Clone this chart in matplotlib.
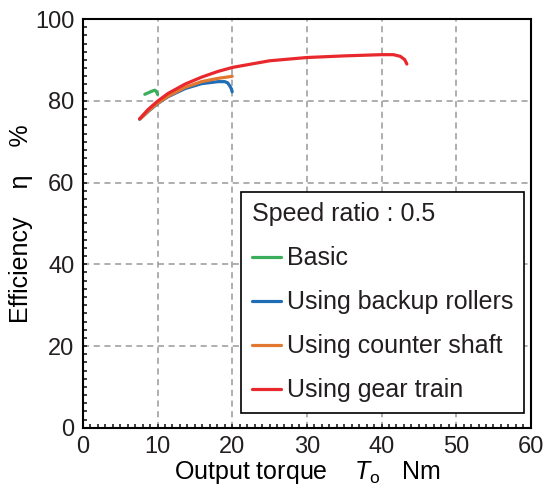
import matplotlib
matplotlib.use("Agg")
import matplotlib.pyplot as plt
from matplotlib.ticker import MultipleLocator

plt.rcParams["font.family"] = ["Liberation Sans", "DejaVu Sans"]
plt.rcParams["mathtext.fontset"] = "custom"
plt.rcParams["mathtext.rm"] = "Liberation Sans"
plt.rcParams["mathtext.it"] = "Liberation Sans:italic"
plt.rcParams["text.color"] = "#231f20"
plt.rcParams["xtick.color"] = "#231f20"
plt.rcParams["ytick.color"] = "#231f20"

# ── data ───────────────────────────────────────────────────────────────────
basic_x = [8.3, 8.8, 9.3, 9.65, 9.85, 10.0]
basic_y = [81.6, 82.0, 82.4, 82.6, 82.3, 81.6]

backup_x = [7.6, 8.75, 10, 11.4, 13.7, 15.9, 18.1, 19.0, 19.4, 19.7, 19.9, 20.0]
backup_y = [75.5, 77.4, 79.3, 81.0, 83.0, 84.2, 84.7, 84.7, 84.4, 83.6, 82.9, 82.2]

counter_x = [7.7, 8.75, 10, 11.4, 13.7, 15.9, 18.1, 20.0]
counter_y = [75.6, 77.5, 79.4, 81.1, 83.3, 84.7, 85.5, 86.0]

gear_x = [7.6, 8.75, 10, 11.4, 13.7, 15.9, 18.1, 20.1, 25, 30, 35, 40, 41.6, 42.5, 43.1, 43.4]
gear_y = [75.6, 77.9, 79.9, 81.8, 84.1, 85.8, 87.2, 88.2, 89.8, 90.6, 91.0, 91.3, 91.3, 90.9, 90.1, 89.0]

labels = ["Basic", "Using backup rollers", "Using counter shaft", "Using gear train"]
colors = ["#3aae5a", "#1f6db5", "#e0782f", "#e8282c"]

# ── plot ────────────────────────────────────────────────────────────────────
fig = plt.figure(figsize=(5.45, 4.9), dpi=100)
ax = fig.add_axes([0.152, 0.127, 0.822, 0.834])

series = [(basic_x, basic_y), (backup_x, backup_y), (counter_x, counter_y), (gear_x, gear_y)]
for (xs, ys), lab, col in zip(series, labels, colors):
    ax.plot(xs, ys, color=col, lw=2.3, label=lab, solid_capstyle="round",
            solid_joinstyle="round")

ax.set_xlim(0, 60)
ax.set_ylim(0, 100)
ax.xaxis.set_major_locator(MultipleLocator(10))
ax.xaxis.set_minor_locator(MultipleLocator(1))
ax.yaxis.set_major_locator(MultipleLocator(20))
ax.yaxis.set_minor_locator(MultipleLocator(2))
ax.tick_params(which="both", direction="in", length=3, width=1.2, labelsize=17, pad=6,
               top=False, right=False)
ax.grid(True, which="major", color="#999999", ls=(0, (4, 3)), lw=1.1)
for sp in ax.spines.values():
    sp.set_linewidth(1.5)

ax.set_xlabel(r"Output torque    $T_\mathrm{o}$   Nm", fontsize=18, labelpad=1)
ax.set_ylabel("Efficiency    η    %", fontsize=18)
ax.yaxis.set_label_coords(-0.112, 0.5)

leg = ax.legend(title="Speed ratio : 0.5", loc="upper left",
                bbox_to_anchor=(0.354, 0.577), fontsize=18, title_fontsize=18,
                handlelength=1.15, handletextpad=0.25, labelspacing=0.8,
                borderpad=0.42, borderaxespad=0, fancybox=False, framealpha=1,
                edgecolor="black")
leg._legend_box.align = "left"
leg.get_frame().set_linewidth(1.2)

plt.savefig("out.png", dpi=100)
plt.close()
